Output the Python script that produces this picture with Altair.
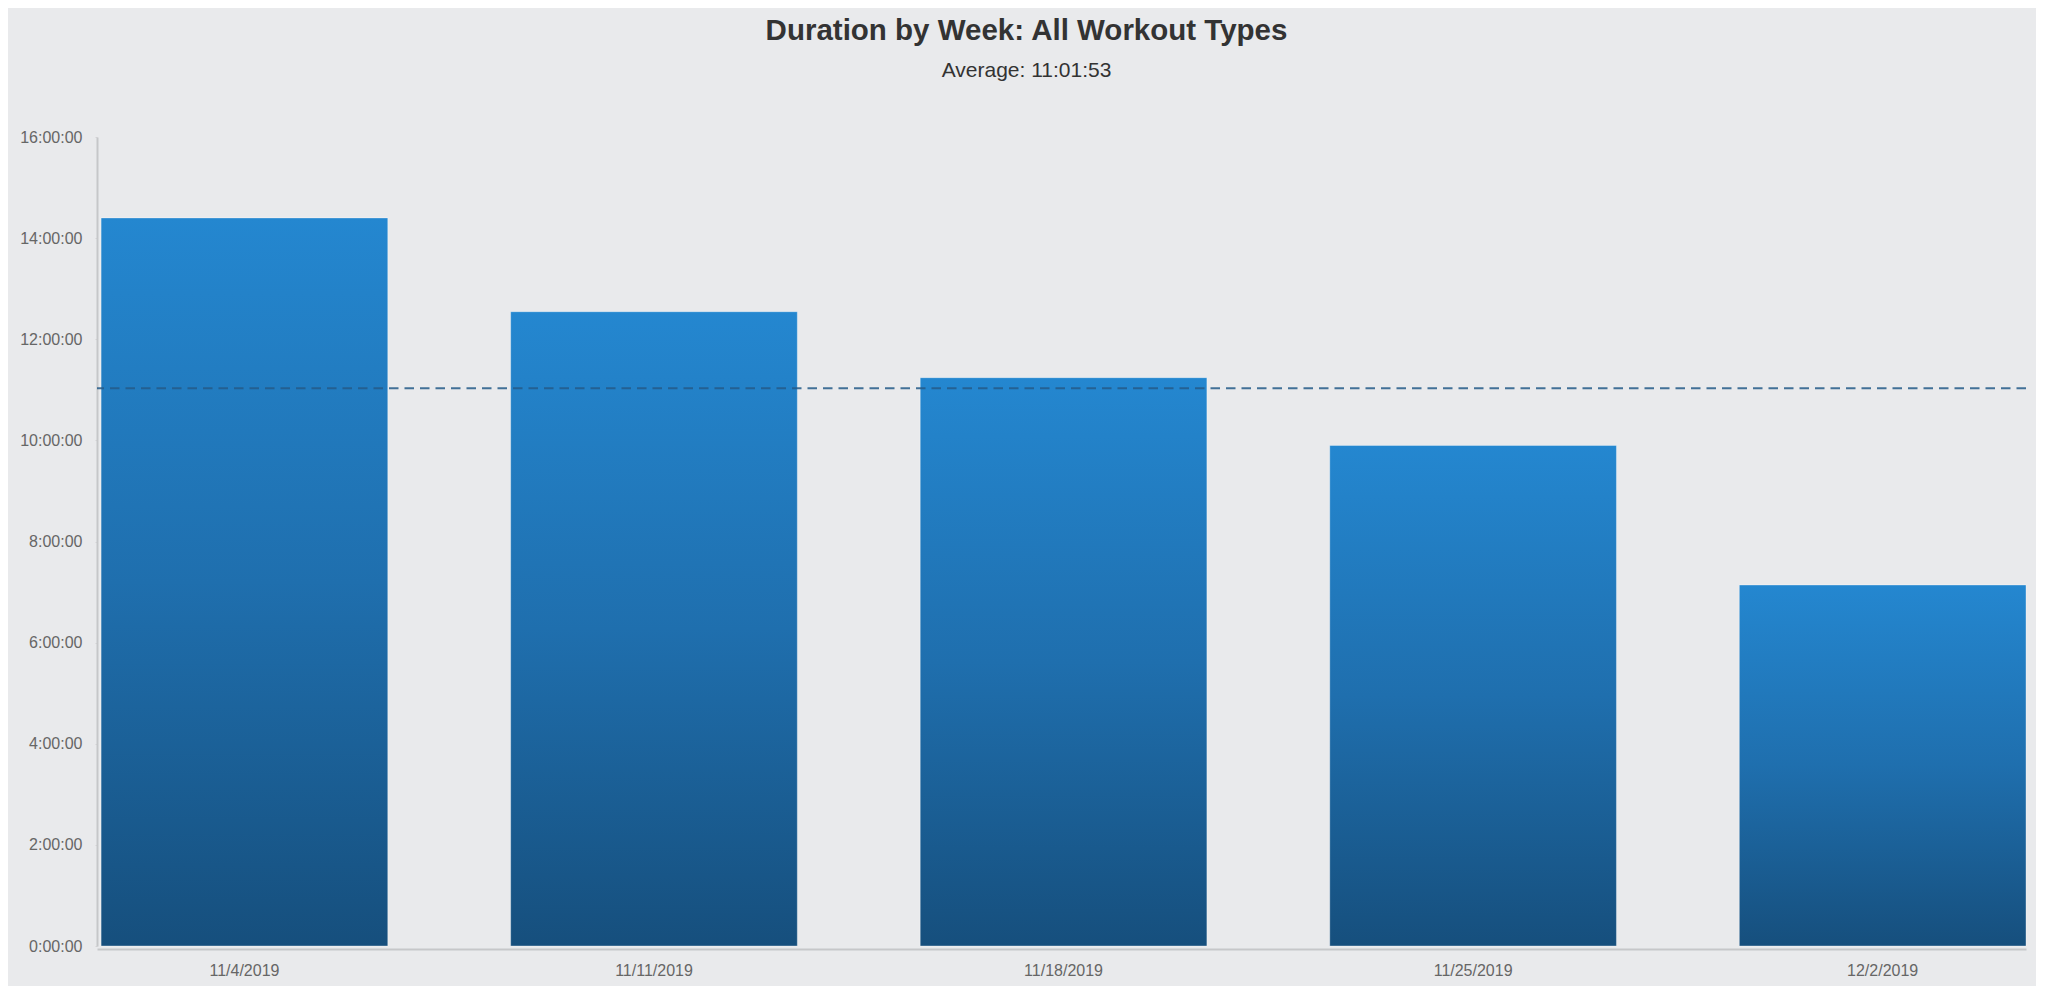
import altair as alt
import pandas as pd

weeks = ["11/4/2019", "11/11/2019", "11/18/2019", "11/25/2019", "12/2/2019"]
hours = [14.40, 12.545, 11.24, 9.90, 7.14]
average_hours = [11 + 1 / 60 + 53 / 3600]
y_ticks = [0, 2, 4, 6, 8, 10, 12, 14, 16]

bars_df = pd.DataFrame({"week": weeks, "hours": hours})
avg_df = pd.DataFrame({"avg": average_hours})

FONT = "Liberation Sans"
W, H = 1929, 809

base = alt.Chart(bars_df)

bars = base.mark_bar(
    color=alt.Gradient(
        gradient="linear",
        x1=0, x2=0, y1=0, y2=1,
        stops=[
            alt.GradientStop(color="#2487d0", offset=0),
            alt.GradientStop(color="#1f6fae", offset=0.5),
            alt.GradientStop(color="#164f7d", offset=1),
        ],
    ),
    stroke="#ffffff",
    strokeOpacity=0.35,
    strokeWidth=1,
).encode(
    x=alt.X(
        "week:N",
        sort=weeks,
        title=None,
        scale=alt.Scale(paddingInner=0.3, paddingOuter=0.005, align=1),
        axis=alt.Axis(
            labelAngle=0,
            ticks=False,
            labelPadding=13,
            labelFont=FONT,
            labelFontSize=16,
            labelColor="#666666",
            domainColor="#c6c7c9",
            domainWidth=2,
            offset=3,
        ),
    ),
    y=alt.Y(
        "hours:Q",
        title=None,
        scale=alt.Scale(domain=[0, 16], nice=False),
        axis=alt.Axis(
            values=y_ticks,
            labelExpr="datum.value + ':00:00'",
            grid=False,
            tickSize=2,
            tickColor="#d4d5d7",
            labelPadding=13,
            labelFont=FONT,
            labelFontSize=16,
            labelColor="#666666",
            domainColor="#c6c7c9",
            domainWidth=2,
        ),
    ),
)

avg_rule = alt.Chart(avg_df).mark_rule(
    color="#245a88",
    strokeWidth=2,
    strokeDash=[9.5, 6],
    opacity=0.85,
).encode(y=alt.Y("avg:Q"))

chart = (
    alt.layer(bars, avg_rule)
    .properties(
        width=W,
        height=H,
        padding={"left": 89, "top": 129, "right": 10, "bottom": 40},
        autosize=alt.AutoSizeParams(type="none"),
        background="#e9eaec",
        title=alt.TitleParams(
            text="Duration by Week: All Workout Types",
            subtitle="Average: 11:01:53",
            font=FONT,
            fontSize=29.5,
            fontWeight="bold",
            color="#333333",
            subtitleFont=FONT,
            subtitleFontSize=21,
            subtitleColor="#333333",
            subtitlePadding=14,
            anchor="middle",
            dx=-35,
            offset=47,
        ),
    )
    .configure_view(stroke=None)
)

chart.save("out.html", embed_options={"renderer": "svg", "actions": False})
